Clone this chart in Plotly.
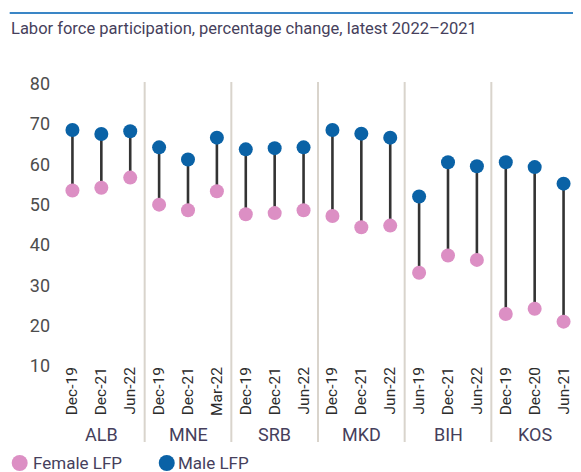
import plotly.graph_objects as go

# ---- data ----
countries = ["ALB", "MNE", "SRB", "MKD", "BIH", "KOS"]
periods = [
    ["Dec-19", "Dec-21", "Jun-22"],
    ["Dec-19", "Dec-21", "Mar-22"],
    ["Dec-19", "Dec-21", "Jun-22"],
    ["Dec-19", "Dec-21", "Jun-22"],
    ["Jun-19", "Dec-21", "Jun-22"],
    ["Dec-19", "Dec-20", "Jun-21"],
]
female_lfp = [53.5, 54.2, 56.7, 50.0, 48.6, 53.3, 47.6, 47.9, 48.6,
              47.2, 44.4, 44.8, 33.1, 37.4, 36.3, 22.9, 24.2, 21.0]
male_lfp = [68.5, 67.5, 68.2, 64.2, 61.2, 66.6, 63.7, 64.0, 64.2,
            68.5, 67.6, 66.6, 52.0, 60.5, 59.5, 60.5, 59.3, 55.2]
y_ticks = [10, 20, 30, 40, 50, 60, 70, 80]

title_text = "Labor force participation, percentage change, latest 2022\u20132021"

# ---- derived ----
tick_text = [p for grp in periods for p in grp]
xs = list(range(len(tick_text)))

FONT = "Roboto"
TXT = "#463f5c"
PINK = "#dc8fc4"
BLUE = "#0a62a6"

# page body has an 8px margin; figure is sized/placed to compensate
OFF = 8
FW, FH = 581 - OFF, 472 - OFF
# plot geometry in screen pixels
PL, PW = 58.3, 519.8
PT, PB = 82.0, 366.0
PH = PB - PT


def px_x(p):
    return (p - PL) / PW


def px_y(p):
    return (PB - p) / PH


stem_x, stem_y = [], []
for x, f, m in zip(xs, female_lfp, male_lfp):
    stem_x += [x, x, None]
    stem_y += [f, m, None]

fig = go.Figure()
fig.add_trace(go.Scatter(x=stem_x, y=stem_y, mode="lines",
                         line=dict(color="#333333", width=2.6),
                         hoverinfo="skip", showlegend=False))
fig.add_trace(go.Scatter(x=xs, y=female_lfp, mode="markers", name="Female LFP",
                         marker=dict(color=PINK, size=14), showlegend=False))
fig.add_trace(go.Scatter(x=xs, y=male_lfp, mode="markers", name="Male LFP",
                         marker=dict(color=BLUE, size=14), showlegend=False))

shapes = []
annotations = []
# group separators
for g in range(1, len(countries)):
    sx = g * 3 - 0.5
    shapes.append(dict(type="line", xref="x", yref="paper", x0=sx, x1=sx,
                       y0=px_y(442), y1=1.0,
                       line=dict(color="#d9d4cc", width=2)))
# group labels
for g, c in enumerate(countries):
    annotations.append(dict(x=g * 3 + 1, y=px_y(434), xref="x", yref="paper",
                            text=c, showarrow=False, yanchor="middle",
                            font=dict(family=FONT, size=18, color=TXT)))
# top rule
shapes.append(dict(type="line", xref="paper", yref="paper",
                   x0=px_x(10), x1=px_x(585), y0=px_y(13), y1=px_y(13),
                   line=dict(color="#3a86c6", width=2)))
# title
annotations.append(dict(x=px_x(9), y=px_y(28), xref="paper", yref="paper",
                        text=title_text, showarrow=False,
                        xanchor="left", yanchor="middle",
                        font=dict(family=FONT, size=16.5, color=TXT)))
# legend (manual)
for name, col, cx, tx in [("Female LFP", PINK, 20, 31), ("Male LFP", BLUE, 167, 176)]:
    shapes.append(dict(type="circle", xref="paper", yref="paper",
                       xsizemode="pixel", ysizemode="pixel",
                       xanchor=px_x(cx), yanchor=px_y(463),
                       x0=-8, x1=8, y0=-8, y1=8,
                       fillcolor=col, line=dict(width=0)))
    annotations.append(dict(x=px_x(tx), y=px_y(463), xref="paper", yref="paper",
                            text=name, showarrow=False,
                            xanchor="left", yanchor="middle",
                            font=dict(family=FONT, size=17, color=TXT)))

fig.update_layout(
    width=FW, height=FH,
    margin=dict(l=PL - OFF, r=FW - (PL - OFF) - PW, t=PT - OFF, b=FH - (PB - OFF)),
    paper_bgcolor="white", plot_bgcolor="white",
    showlegend=False,
    shapes=shapes, annotations=annotations,
    xaxis=dict(range=[-0.5, len(xs) - 0.5], tickvals=xs, ticktext=tick_text,
               tickangle=-90, showgrid=False, zeroline=False, showline=False,
               ticks="", ticklabelstandoff=-3,
               tickfont=dict(family=FONT, size=15.5, color="#2b2b2b"),
               fixedrange=True),
    yaxis=dict(range=[10, 80.4], tickvals=y_ticks, showgrid=False,
               zeroline=False, showline=False, ticks="",
               ticklabelstandoff=7,
               tickfont=dict(family=FONT, size=18, color="#4d4d4d"),
               fixedrange=True),
)

fig.write_html("out.html")
